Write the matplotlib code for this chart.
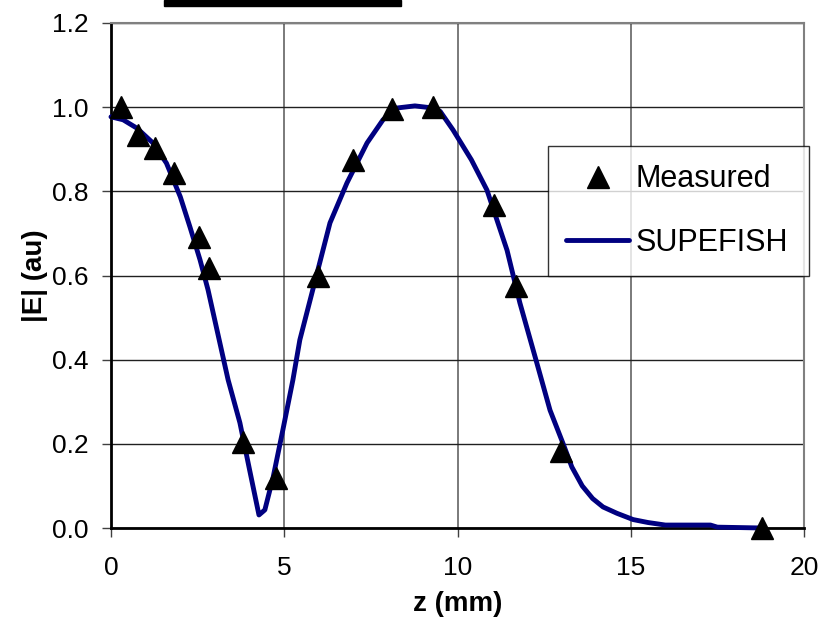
import matplotlib.pyplot as plt
from matplotlib.patches import Rectangle

plt.rcParams['font.family'] = ['Liberation Sans', 'DejaVu Sans']

# measured field points
zMeas = [0.29, 0.78, 1.27, 1.82, 2.54, 2.83, 3.81, 4.76, 5.97, 6.98, 8.1, 9.3, 11.05, 11.7, 13.0, 18.8]
eMeas = [1.0, 0.934, 0.903, 0.844, 0.692, 0.618, 0.205, 0.12, 0.60, 0.875, 0.995, 1.0, 0.768, 0.575, 0.183, 0.0]

# superfish curve
zSim = [0.0, 0.35, 0.75, 1.21, 1.6, 2.0, 2.28, 2.57, 2.8, 3.38, 3.72, 4.0, 4.27, 4.44, 4.68,
        4.96, 5.25, 5.45, 5.97, 6.32, 6.81, 7.39, 7.85, 8.25, 8.77, 9.29, 9.5, 9.87, 10.4,
        10.85, 11.43, 11.8, 12.29, 12.67, 13.04, 13.3, 13.6, 13.9, 14.2, 14.6, 15.07, 15.5,
        16.0, 17.3, 17.5, 18.8]
eSim = [0.977, 0.97, 0.95, 0.915, 0.867, 0.787, 0.715, 0.637, 0.566, 0.352, 0.25, 0.138,
        0.031, 0.043, 0.121, 0.233, 0.352, 0.447, 0.613, 0.725, 0.82, 0.915, 0.97, 0.998,
        1.003, 0.998, 0.99, 0.946, 0.875, 0.803, 0.66, 0.535, 0.392, 0.28, 0.202, 0.145,
        0.10, 0.07, 0.05, 0.035, 0.02, 0.013, 0.007, 0.007, 0.002, 0.0]

fig = plt.figure(figsize=(8.32, 6.23), dpi=100)
axs = fig.add_axes([111/832, 1 - 528/623, (804 - 111)/832, (528 - 23)/623])

axs.plot(zSim, eSim, color='#000080', lw=3.5, label='SUPEFISH', zorder=3,
         solid_capstyle='round', solid_joinstyle='round', clip_on=False)
axs.plot(zMeas, eMeas, '^', color='black', ms=16.5, label='Measured', zorder=4, clip_on=False)

axs.set_xlim(0, 20)
axs.set_ylim(0, 1.2)
axs.set_xticks([0, 5, 10, 15, 20])
axs.set_yticks([0.0, 0.2, 0.4, 0.6, 0.8, 1.0, 1.2])
axs.set_yticklabels(['%.1f' % v for v in axs.get_yticks()])
axs.yaxis.grid(True, color='#202020', lw=1)
axs.xaxis.grid(True, color='#707070', lw=1.3)
axs.set_axisbelow(True)
axs.tick_params(labelsize=19, length=6.5, width=1, color='#404040', direction='out')
axs.tick_params(axis='x', pad=13.5)
axs.tick_params(axis='y', pad=9.5)

for side in ['left', 'bottom']:
    axs.spines[side].set_color('black')
    axs.spines[side].set_linewidth(2)
for side in ['top', 'right']:
    axs.spines[side].set_color('#808080')
    axs.spines[side].set_linewidth(1.5)

axs.set_xlabel('z (mm)', fontsize=20, fontweight='bold', labelpad=8)
axs.set_ylabel('|E| (au)', fontsize=20, fontweight='bold', labelpad=3)

handles, labels = axs.get_legend_handles_labels()
leg = fig.legend(handles[::-1], labels[::-1], loc='upper left',
                 bbox_to_anchor=(548/832, 1 - 146/623, (809 - 548)/832, 0),
                 mode='expand', fontsize=22, frameon=True, fancybox=False,
                 edgecolor='black', borderpad=0.6, labelspacing=1.1, handlelength=2.05,
                 handletextpad=0.23, borderaxespad=0)
leg.get_frame().set_linewidth(1)

fig.add_artist(Rectangle((164/832, 1 - 6/623), (401 - 164)/832, 6/623,
                         transform=fig.transFigure, color='black'))

fig.savefig('out.png', dpi=100)
